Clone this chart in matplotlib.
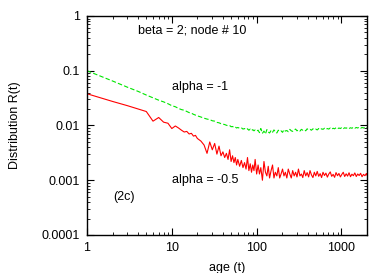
import numpy as np
import matplotlib
matplotlib.use('Agg')
import matplotlib.pyplot as plt
from matplotlib.ticker import LogLocator, NullFormatter, FixedLocator, FixedFormatter

plt.rcParams['font.family'] = ['Liberation Sans', 'DejaVu Sans']

# age grid (t)
age = [1, 2, 3, 4, 5, 6, 7, 8, 9, 10, 11, 12, 13, 14, 15, 16, 17, 18, 19, 20,
       22, 24, 26, 28, 30, 32, 34, 36, 38, 40, 42, 44, 46, 48, 50, 52, 54, 56, 58, 60,
       63, 66, 69, 72, 75, 78, 81, 84, 87, 90, 93, 96, 100,
       104, 108, 112, 117, 122, 127, 132, 137, 142, 148, 154, 160, 166, 173, 180,
       187, 194, 202, 210, 218, 227, 236, 246, 256, 266, 277, 288, 299, 311, 324,
       337, 350, 364, 379, 394, 410, 426, 443, 461, 479, 498, 518, 539, 561, 583,
       606, 631, 656, 682, 709, 738, 767, 798, 830, 863, 898, 934, 971, 1010, 1050,
       1092, 1136, 1181, 1229, 1278, 1329, 1382, 1437, 1495, 1555, 1617, 1682, 1749,
       1819, 1892, 1968, 2000]

# alpha = -1 (green, dashed)
R_alpha_m1 = [0.100, 0.065, 0.050, 0.042, 0.036, 0.032, 0.029, 0.027, 0.025, 0.023,
              0.022, 0.0205, 0.0195, 0.019, 0.018, 0.0172, 0.0168, 0.016, 0.0155, 0.015,
              0.0143, 0.0136, 0.0131, 0.0128, 0.0122, 0.0120, 0.0114, 0.0112, 0.0108, 0.0106,
              0.0104, 0.0101, 0.0099, 0.0100, 0.0095, 0.0096, 0.0092, 0.0094, 0.0090, 0.0092,
              0.0089, 0.0091, 0.0086, 0.0088, 0.0084, 0.0087, 0.0082, 0.0086, 0.0081, 0.0084,
              0.0080, 0.0083, 0.0079,
              0.0082, 0.0074, 0.0088, 0.0072, 0.0079, 0.0070, 0.0084, 0.0076, 0.0073, 0.0081,
              0.0075, 0.0083, 0.0077, 0.0073, 0.0082, 0.0078, 0.0080, 0.0075, 0.0084, 0.0079,
              0.0081, 0.0077, 0.0085, 0.0080, 0.0078, 0.0083, 0.0086, 0.0080, 0.0083, 0.0079,
              0.0085, 0.0082, 0.0084, 0.0080, 0.0087, 0.0083, 0.0085, 0.0082, 0.0087, 0.0084,
              0.0086, 0.0083, 0.0088, 0.0084, 0.0087, 0.0085, 0.0089, 0.0085, 0.0088, 0.0086,
              0.0090, 0.0086, 0.0089, 0.0087, 0.0091, 0.0087, 0.0090, 0.0088, 0.0092, 0.0087,
              0.0091, 0.0089, 0.0092, 0.0088, 0.0091, 0.0089, 0.0093, 0.0089, 0.0092, 0.0090,
              0.0093, 0.0089, 0.0092, 0.0090, 0.0093, 0.0090, 0.0092]

# alpha = -0.5 (red, solid)
R_alpha_m05 = [0.038, 0.0275, 0.023, 0.020, 0.018, 0.012, 0.014, 0.0115, 0.011, 0.0088,
               0.0098, 0.0090, 0.0082, 0.0076, 0.0078, 0.0070, 0.0072, 0.0064, 0.0066, 0.0058,
               0.0052, 0.0044, 0.0031, 0.0050, 0.0036, 0.0047, 0.0030, 0.0042, 0.0028, 0.0033,
               0.0026, 0.0031, 0.0024, 0.0036, 0.0022, 0.0028, 0.0021, 0.0026, 0.0019, 0.0024,
               0.0018, 0.0023, 0.0017, 0.0021, 0.0016, 0.0026, 0.0015, 0.0020, 0.0014, 0.0019,
               0.0015, 0.0024, 0.0013,
               0.0019, 0.0013, 0.0017, 0.0010, 0.0022, 0.0014, 0.0012, 0.0018, 0.0011, 0.0015,
               0.0019, 0.0011, 0.0014, 0.0012, 0.0017, 0.0011, 0.0013, 0.0016, 0.0012, 0.0014,
               0.0011, 0.0016, 0.0013, 0.0011, 0.0015, 0.0012, 0.0014, 0.00115, 0.0016, 0.0012,
               0.0013, 0.00112, 0.0015, 0.0012, 0.00138, 0.00115, 0.0015, 0.00125, 0.00112, 0.0014,
               0.0012, 0.00145, 0.00118, 0.00132, 0.00112, 0.0014, 0.00122, 0.00135, 0.00114, 0.0013,
               0.00142, 0.00118, 0.00128, 0.00113, 0.00138, 0.00121, 0.00133, 0.00115, 0.00128, 0.0014,
               0.00117, 0.00131, 0.00119, 0.00137, 0.00116, 0.00129, 0.00121, 0.00136, 0.00117, 0.0013,
               0.00122, 0.00134, 0.00116, 0.00128, 0.00121, 0.00133, 0.00124]

xticks = [1, 10, 100, 1000]
xtick_labels = ['1', '10', '100', '1000']
yticks = [1e-4, 1e-3, 1e-2, 1e-1, 1]
ytick_labels = ['0.0001', '0.001', '0.01', '0.1', '1']

fig = plt.figure(figsize=(3.89, 2.73), dpi=100)
ax = fig.add_axes([0.2237, 0.1392, 0.7197, 0.8022])

ax.plot(age, R_alpha_m1, color='#00e600', lw=0.8, ls=(0, (4, 2)))
ax.plot(age, R_alpha_m05, color='#ff0000', lw=0.8)

ax.set_xscale('log')
ax.set_yscale('log')
ax.set_xlim(1, 2000)
ax.set_ylim(1e-4, 1)

ax.xaxis.set_major_locator(FixedLocator(xticks))
ax.xaxis.set_major_formatter(FixedFormatter(xtick_labels))
ax.yaxis.set_major_locator(FixedLocator(yticks))
ax.yaxis.set_major_formatter(FixedFormatter(ytick_labels))
ax.xaxis.set_minor_locator(LogLocator(base=10, subs=np.arange(2, 10), numticks=20))
ax.yaxis.set_minor_locator(LogLocator(base=10, subs=np.arange(2, 10), numticks=20))
ax.xaxis.set_minor_formatter(NullFormatter())
ax.yaxis.set_minor_formatter(NullFormatter())

ax.tick_params(which='both', direction='in', top=True, right=True, labelsize=9, pad=5)
ax.tick_params(which='major', length=5, width=0.8)
ax.tick_params(which='minor', length=2.5, width=0.6)
for s in ax.spines.values():
    s.set_linewidth(1.0)

ax.set_xlabel('age (t)', fontsize=9, labelpad=6)
ax.set_ylabel('Distribution R(t)', fontsize=9, labelpad=15)

ax.text(0.182, 0.932, 'beta = 2; node # 10', transform=ax.transAxes, fontsize=9, va='center')
ax.text(0.304, 0.676, 'alpha = -1', transform=ax.transAxes, fontsize=9, va='center')
ax.text(0.304, 0.251, 'alpha = -0.5', transform=ax.transAxes, fontsize=9, va='center')
ax.text(0.093, 0.174, '(2c)', transform=ax.transAxes, fontsize=9, va='center')

fig.savefig('out.png', dpi=100)
